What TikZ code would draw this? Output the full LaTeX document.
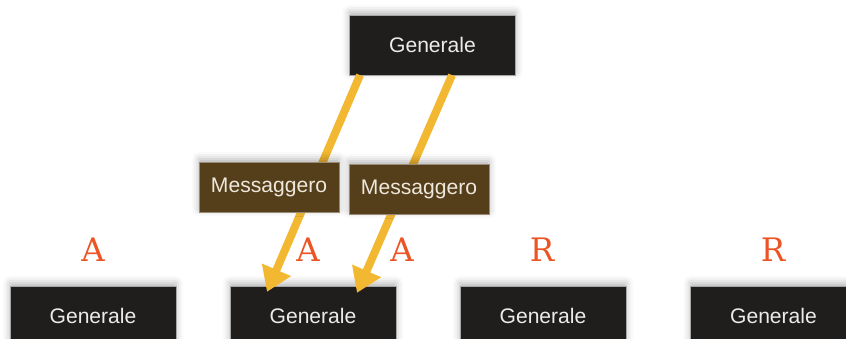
\documentclass[tikz,border=0pt]{standalone}
\usepackage{fontspec}
\setsansfont{Liberation Sans}
\newfontfamily\votefont{DejaVu Serif}
\usetikzlibrary{arrows.meta,calc,shadows.blur}
\definecolor{boxblack}{HTML}{1F1E1D}
\definecolor{msgbrown}{HTML}{553E1A}
\definecolor{msgtext}{HTML}{EEE8DC}
\definecolor{msgyellow}{HTML}{F2B832}
\definecolor{voteorange}{HTML}{EC5424}
\tikzset{
  generale/.style={fill=boxblack, draw=gray!70, very thin, text=white!92!black,
    minimum width=166*0.025cm, minimum height=60*0.025cm,
    font=\sffamily\fontsize{15}{18}\selectfont,
    blur shadow={shadow xshift=0pt, shadow yshift=2pt, shadow opacity=30, shadow blur radius=5pt}},
  messaggero/.style={generale, fill=msgbrown, draw=msgbrown!60!white,
    minimum width=140*0.025cm, minimum height=50*0.025cm, text=msgtext},
  ordine/.style={draw=msgyellow, line width=8*0.025cm,
    -{Triangle[length=24*0.025cm, width=30*0.025cm]}},
  voto/.style={text=voteorange, font=\votefont\fontsize{23}{26}\selectfont}
}
\begin{document}
\begin{tikzpicture}[x=0.025cm, y=0.025cm]
\useasboundingbox (0,0) rectangle (846,338);
\clip (0,0) rectangle (846,338);
% the commander on top
\node[generale] (top) at (432.5,293) {Generale};
% the lieutenants below, each with its vote
\foreach \x/\n in {93/g1, 313/g2, 543/g3, 773.5/g4}
  \node[generale] (\n) at (\x,22) {Generale};
\foreach \x/\n/\v in {93/v1/A, 308/v2/A, 402/v3/A, 542/v4/R, 773/v5/R}
  \node[voto] (\n) at (\x,88) {\v};
% two orders to the same general
\draw[ordine] ($(top.south)+(-72.5,0)$) -- ($(g2.north)+(-46,-6)$);
\draw[ordine] ($(top.south)+(19.5,0)$) -- ($(g2.north)+(44,-7)$);
\node[messaggero] (m1) at (269,151) {Messaggero};
\node[messaggero] (m2) at (419,149) {Messaggero};
\end{tikzpicture}
\end{document}
